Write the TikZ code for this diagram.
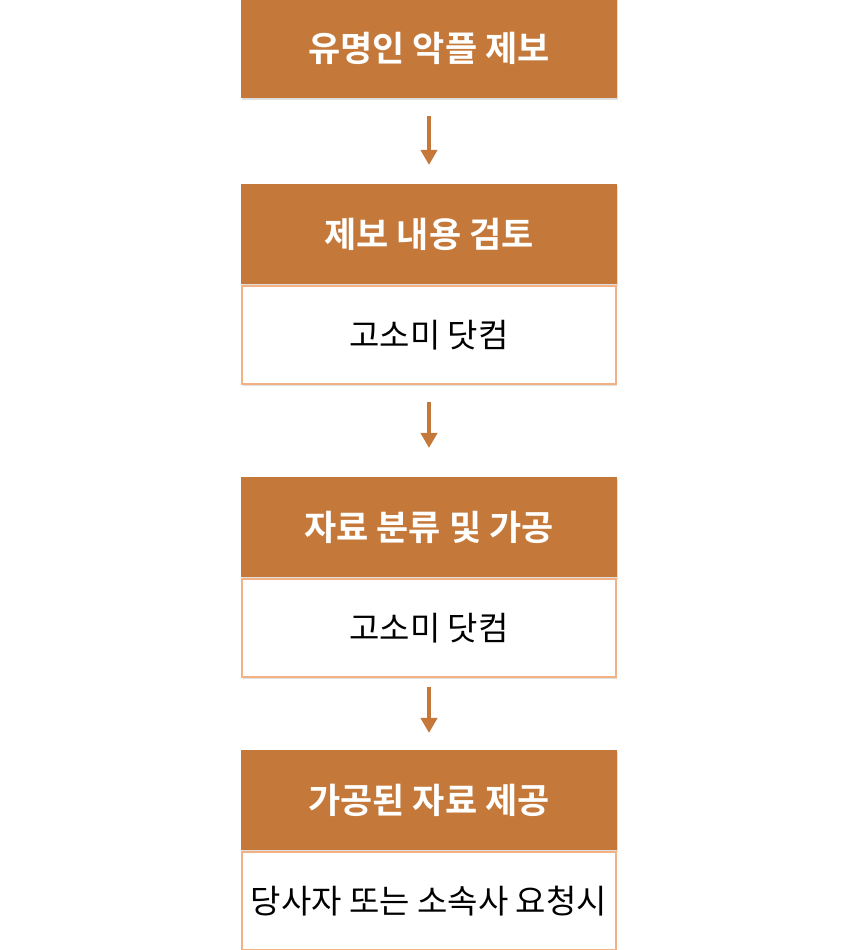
\documentclass[tikz,border=0pt]{standalone}
\usepackage{fontspec}
\setmainfont{Noto Sans CJK KR}[BoldFont={Noto Sans CJK KR Bold}]
\usetikzlibrary{arrows.meta,shadows}
\definecolor{hdr}{RGB}{196,120,57}
\definecolor{bdr}{RGB}{244,177,131}
\tikzset{
  hbox/.style={rectangle, fill=hdr, draw=none, minimum width=376pt, minimum height=100pt, inner sep=0pt,
    text=white, font=\bfseries\fontsize{35}{40}\selectfont, anchor=north,
    drop shadow={opacity=0.25, shadow xshift=1pt, shadow yshift=-2pt}},
  bbox/.style={rectangle, fill=white, draw=bdr, line width=2pt, minimum width=374pt, minimum height=98pt, inner sep=0pt,
    text=black, font=\fontsize{33}{38}\selectfont, anchor=north,
    drop shadow={opacity=0.25, shadow xshift=1pt, shadow yshift=-2pt}},
  flow/.style={draw=hdr, line width=4pt, -{Triangle[width=16pt,length=15pt]}}
}
\begin{document}
\begin{tikzpicture}[x=1pt,y=1pt]
\useasboundingbox (0,0) rectangle (858,950);
\fill[white] (0,0) rectangle (858,950);
% box 1
\node[hbox] (h1) at (429,952) {유명인 악플 제보};
% box 2
\node[hbox] (h2) at (429,766) {제보 내용 검토};
\node[bbox] (b2) at (429,665) {고소미 닷컴};
% box 3
\node[hbox] (h3) at (429,473) {자료 분류 및 가공};
\node[bbox] (b3) at (429,372) {고소미 닷컴};
% box 4
\node[hbox] (h4) at (429,200) {가공된 자료 제공};
\node[bbox] (b4) at (429,99) {당사자 또는 소속사 요청시};
% arrows
\draw[flow, shorten <=18pt, shorten >=19pt] (h1.south) -- (h2.north);
\draw[flow, shorten <=17pt, shorten >=29pt] (b2.south) -- (h3.north);
\draw[flow, shorten <=9pt, shorten >=17pt] (b3.south) -- (h4.north);
\end{tikzpicture}
\end{document}
